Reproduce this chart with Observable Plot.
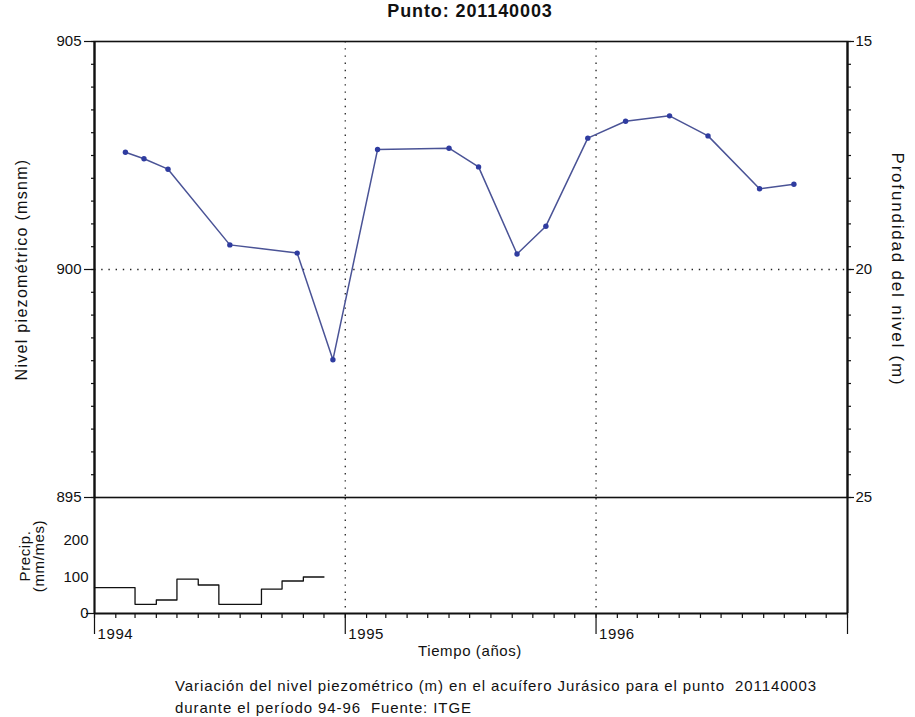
<!DOCTYPE html>
<html>
<head>
<meta charset="utf-8">
<script src="https://cdn.jsdelivr.net/npm/d3@7"></script>
<script src="https://cdn.jsdelivr.net/npm/@observablehq/plot@0.6"></script>
<style>
  html, body { margin: 0; padding: 0; background: #fff; }
  #wrap { position: relative; width: 915px; height: 717px; font-family: "Liberation Sans", Arial, sans-serif; color: #111; }
  #title { position: absolute; top: 1px; left: 0; width: 940px; text-align: center; font-weight: bold; font-size: 18px; letter-spacing: 0.9px; }
  #topPanel { position: absolute; top: 0; left: 0; }
  #bottomPanel { position: absolute; top: 497px; left: 0; }
  #xlabel { position: absolute; top: 642px; left: 0; width: 940px; text-align: center; font-size: 15px; letter-spacing: 0.6px; }
  #caption { position: absolute; top: 675px; left: 175px; font-size: 15px; line-height: 22px; letter-spacing: 0.9px; }
</style>
</head>
<body>
<div id="wrap">
  <div id="topPanel"></div>
  <div id="bottomPanel"></div>
  <div id="title">Punto: 201140003</div>
  <div id="xlabel">Tiempo (años)</div>
  <div id="caption">Variación del nivel piezométrico (m) en el acuífero Jurásico para el punto&nbsp; 201140003<br>durante el período 94-96&nbsp; Fuente: ITGE</div>
</div>
<script>
// ---- data ----
const levelDates = ["1994-02-15","1994-03-14","1994-04-18","1994-07-17","1994-10-23","1994-12-14",
  "1995-02-17","1995-06-01","1995-07-14","1995-09-08","1995-10-20","1995-12-20",
  "1996-02-13","1996-04-17","1996-06-12","1996-08-26","1996-10-15"];
const levelValues = [902.57,902.43,902.20,900.54,900.36,898.02,
  902.63,902.66,902.25,900.34,900.95,902.88,
  903.25,903.37,902.93,901.77,901.87];
const precipMonths = ["1994-01-01","1994-02-01","1994-03-01","1994-04-01","1994-05-01","1994-06-01",
  "1994-07-01","1994-08-01","1994-09-01","1994-10-01","1994-11-01"];
const precipValues = [71,71,25,37,94,78,25,25,67,89,100];
const precipEnd = "1994-12-01";
const yearTicks = ["1994-01-01","1995-01-01","1996-01-01","1997-01-01"];
const yearLabels = ["1994","1995","1996",""];
const gridYears = ["1995-01-01","1996-01-01"];
const levelMajorTicks = [895,900,905];
const precipTicks = [0,100,200];
const depthRef = 920; // depth = 920 - level

// ---- tables ----
const level = levelDates.map((d,i) => ({date: new Date(d), value: levelValues[i]}));
const precip = precipMonths.map((d,i) => ({date: new Date(d), value: precipValues[i]}));
precip.push({date: new Date(precipEnd), value: precipValues[precipValues.length-1]});
const years = yearTicks.map((d,i) => ({date: new Date(d), label: yearLabels[i]}));
const grid = gridYears.map(d => new Date(d));
const xDomain = [new Date(yearTicks[0]), new Date(yearTicks[yearTicks.length-1])];
const minorLevel = d3.range(895, 905.01, 0.5);
const monthTicks = d3.utcMonth.range(xDomain[0], new Date(Date.UTC(1997,0,2)));

const font = {fontFamily: "Liberation Sans, Arial, sans-serif", fontSize: "15px", color: "#111", background: "transparent", overflow: "visible"};
const dots = {strokeDasharray: "1.4,5.8", strokeWidth: 1.3, stroke: "#222"};

const topPlot = Plot.plot({
  width: 915, height: 498,
  marginTop: 41, marginBottom: 1, marginLeft: 94, marginRight: 68,
  style: font,
  x: {type: "utc", domain: xDomain, axis: null},
  y: {domain: [895, 905], axis: null},
  marks: [
    Plot.ruleX(grid, {...dots}),
    Plot.ruleY([900], {...dots}),
    Plot.frame({stroke: "#111", strokeWidth: 1.6}),
    Plot.axisY(minorLevel, {anchor: "left", tickSize: 3, tickFormat: () => "", strokeWidth: 1.2, label: null}),
    Plot.axisY(levelMajorTicks, {anchor: "left", tickSize: 10, tickPadding: 3, strokeWidth: 1.2, label: null}),
    Plot.axisY(minorLevel, {anchor: "right", tickSize: 3, tickFormat: () => "", strokeWidth: 1.2, label: null}),
    Plot.axisY(levelMajorTicks, {anchor: "right", tickSize: 6, tickPadding: 2, tickFormat: d => String(depthRef - d), strokeWidth: 1.2, label: null}),
    Plot.ruleX([xDomain[0]], {stroke: "#111", strokeWidth: 2.2}),
    Plot.ruleX([xDomain[1]], {stroke: "#111", strokeWidth: 2.2}),
    Plot.line(level, {x: "date", y: "value", stroke: "#4a5396", strokeWidth: 1.5}),
    Plot.dot(level, {x: "date", y: "value", r: 2.7, fill: "#2f3ca0", stroke: "none"}),
    Plot.text(["Nivel piezométrico (msnm)"], {frameAnchor: "left", textAnchor: "middle", dx: -73, rotate: -90, fontSize: 16}),
    Plot.text(["Profundidad del nivel (m)"], {frameAnchor: "right", textAnchor: "middle", dx: 50, rotate: 90, fontSize: 17})
  ]
});
document.getElementById("topPanel").appendChild(topPlot);

const bottomPlot = Plot.plot({
  width: 915, height: 165,
  marginTop: 1, marginBottom: 49, marginLeft: 94, marginRight: 68,
  style: font,
  x: {type: "utc", domain: xDomain, axis: null},
  y: {domain: [0, 315], axis: null},
  marks: [
    Plot.ruleX(grid, {...dots}),
    Plot.axisY(precipTicks, {anchor: "left", tickSize: 0, tickPadding: 6, label: null}),
    Plot.axisY([0], {anchor: "left", tickSize: 8, tickFormat: () => "", strokeWidth: 1.2, label: null}),
    Plot.axisX(monthTicks, {anchor: "bottom", tickSize: 5, tickFormat: () => "", strokeWidth: 1.2, label: null}),
    Plot.ruleX(years, {x: "date", y1: 0, y2: 0, stroke: "#111", strokeWidth: 1.2, insetBottom: -21}),
    Plot.text(years, {x: "date", y: 0, text: "label", textAnchor: "start", dx: 3, dy: 21, fontSize: 15}),
    Plot.ruleX([xDomain[0]], {stroke: "#111", strokeWidth: 2.2}),
    Plot.ruleX([xDomain[1]], {stroke: "#111", strokeWidth: 2.2}),
    Plot.ruleY([0], {stroke: "#111", strokeWidth: 2}),
    Plot.line(precip, {x: "date", y: "value", curve: "step-after", stroke: "#111", strokeWidth: 1.3}),
    Plot.text(["Precip.\n(mm/mes)"], {frameAnchor: "left", textAnchor: "middle", dx: -62, rotate: -90, fontSize: 15, lineHeight: 0.95})
  ]
});
document.getElementById("bottomPanel").appendChild(bottomPlot);

// widen axis-title spacing to match the reference lettering
const topTitles = topPlot.querySelectorAll('g[aria-label="text"] text');
if (topTitles[0]) topTitles[0].style.letterSpacing = "1.3px";
if (topTitles[1]) topTitles[1].style.letterSpacing = "1.8px";
for (const t of bottomPlot.querySelectorAll('g[aria-label="text"] text')) t.style.letterSpacing = "0.6px";
</script>
</body>
</html>
